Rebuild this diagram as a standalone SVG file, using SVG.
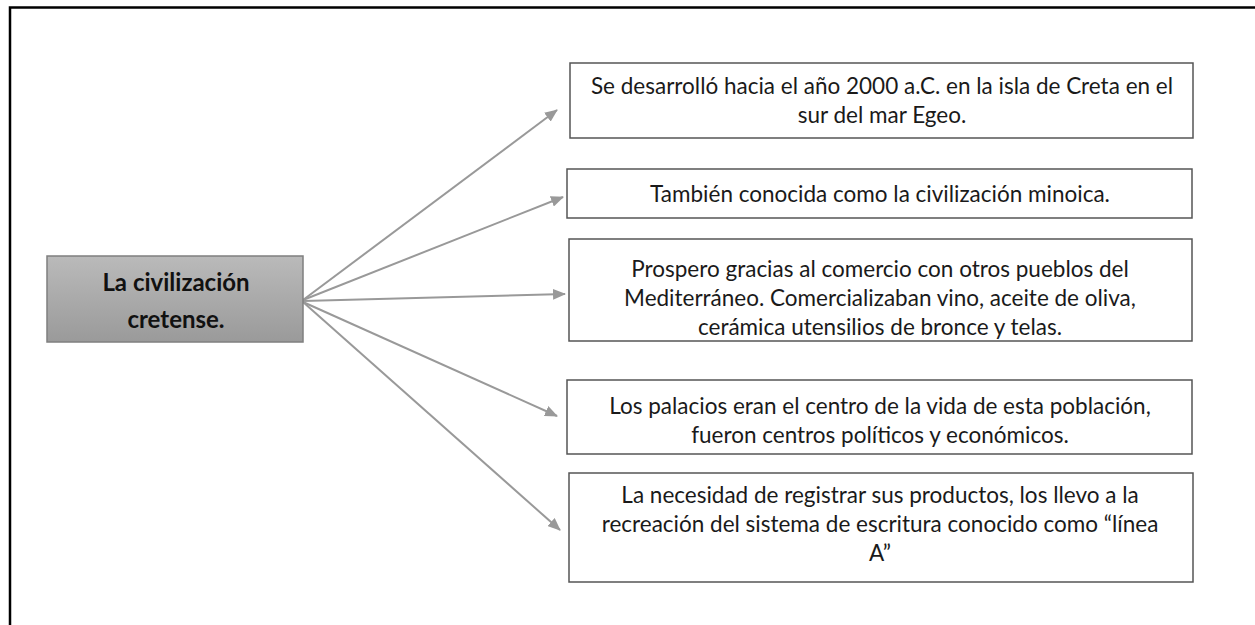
<svg xmlns="http://www.w3.org/2000/svg" width="1255" height="625" viewBox="0 0 1255 625">
  <defs>
    <linearGradient id="gray" x1="0" y1="0" x2="0" y2="1">
      <stop offset="0" stop-color="#bababa"/>
      <stop offset="1" stop-color="#9a9a9a"/>
    </linearGradient>
    <marker id="arr" markerWidth="13" markerHeight="11" refX="12" refY="5.5" orient="auto" markerUnits="userSpaceOnUse">
      <path d="M0,0 L13,5.5 L0,11 Z" fill="#999999"/>
    </marker>
  </defs>
  <style>
    .frame { fill: none; stroke: #000; stroke-width: 2.5; }
    .box { fill: #fff; stroke: #555; stroke-width: 1.5; }
    .txt { font-family: Lato, "Liberation Sans", sans-serif; font-size: 22.5px; fill: #1a1a1a; text-anchor: middle; }
    .main { font-family: Lato, "Liberation Sans", sans-serif; font-size: 24px; font-weight: bold; fill: #111; text-anchor: middle; }
    .conn { stroke: #999999; stroke-width: 2; fill: none; marker-end: url(#arr); }
  </style>
  <rect width="1255" height="625" fill="#fff"/>
  <path class="frame" d="M10,625 V7.5 H1255"/>

  <g id="connectors">
    <line class="conn" x1="303" y1="300" x2="557" y2="110"/>
    <line class="conn" x1="303" y1="300" x2="563" y2="197"/>
    <line class="conn" x1="303" y1="301" x2="565" y2="294"/>
    <line class="conn" x1="303" y1="302" x2="557" y2="416"/>
    <line class="conn" x1="303" y1="302" x2="560" y2="530"/>
  </g>

  <g id="center">
    <rect x="47" y="256" width="256" height="86" fill="url(#gray)" stroke="#7f7f7f" stroke-width="1.5"/>
    <text class="main" x="176" y="291">La civilización</text>
    <text class="main" x="176" y="328">cretense.</text>
  </g>

  <g id="n1">
    <rect class="box" x="570" y="63" width="623" height="75"/>
    <text class="txt" x="882" y="94">Se desarrolló hacia el año 2000 a.C. en la isla de Creta en el</text>
    <text class="txt" x="882" y="123">sur del mar Egeo.</text>
  </g>
  <g id="n2">
    <rect class="box" x="567" y="169" width="625" height="49"/>
    <text class="txt" x="880" y="202">También conocida como la civilización minoica.</text>
  </g>
  <g id="n3">
    <rect class="box" x="569" y="239" width="623" height="102"/>
    <text class="txt" x="880" y="277">Prospero gracias al comercio con otros pueblos del</text>
    <text class="txt" x="880" y="306">Mediterráneo. Comercializaban vino, aceite de oliva,</text>
    <text class="txt" x="880" y="335">cerámica utensilios de bronce y telas.</text>
  </g>
  <g id="n4">
    <rect class="box" x="567" y="380" width="625" height="74"/>
    <text class="txt" x="880" y="414">Los palacios eran el centro de la vida de esta población,</text>
    <text class="txt" x="880" y="443">fueron centros políticos y económicos.</text>
  </g>
  <g id="n5">
    <rect class="box" x="569" y="473" width="624" height="109"/>
    <text class="txt" x="880" y="503">La necesidad de registrar sus productos, los llevo a la</text>
    <text class="txt" x="880" y="532">recreación del sistema de escritura conocido como “línea</text>
    <text class="txt" x="880" y="561">A”</text>
  </g>
</svg>
